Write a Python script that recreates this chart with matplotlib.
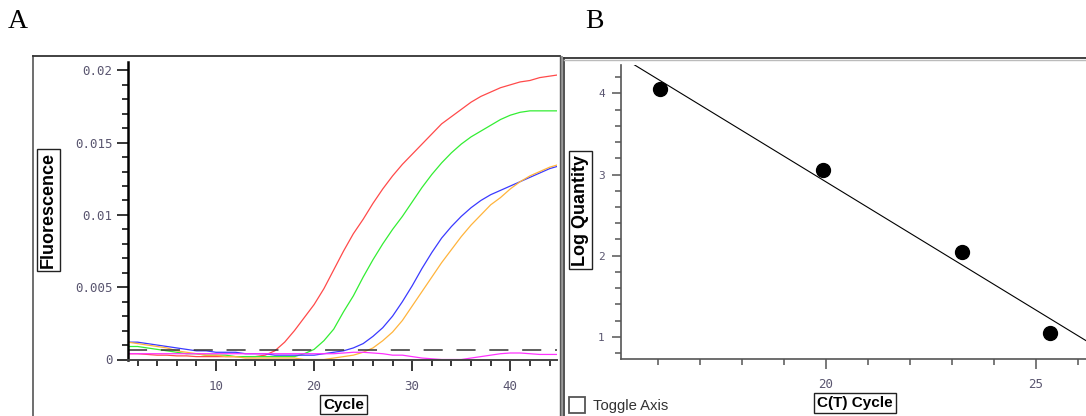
import numpy as np
import matplotlib
matplotlib.use('Agg')
import matplotlib.pyplot as plt
from matplotlib.ticker import FixedLocator, FixedFormatter, MultipleLocator
from matplotlib.lines import Line2D
from matplotlib.patches import Rectangle

W, H = 1086, 416

# ---------------- Panel A data (amplification curves) ----------------
cycles = list(range(1, 46))
red = [0.0004, 0.0004, 0.00035, 0.0003, 0.0003, 0.00025, 0.00025, 0.0002, 0.0002, 0.0002,
       0.0002, 0.0002, 0.0002, 0.0002, 0.0003, 0.0006, 0.0012, 0.0020, 0.0029, 0.0038,
       0.0049, 0.0062, 0.0075, 0.0087, 0.0097, 0.0108, 0.0118, 0.0127, 0.0135, 0.0142,
       0.0149, 0.0156, 0.0163, 0.0168, 0.0173, 0.0178, 0.0182, 0.0185, 0.0188, 0.0190,
       0.0192, 0.0193, 0.0195, 0.0196, 0.0197]
green = [0.0009, 0.0009, 0.0008, 0.0007, 0.0006, 0.0005, 0.0004, 0.0004, 0.0003, 0.0003,
         0.0003, 0.0002, 0.0002, 0.0002, 0.0002, 0.0002, 0.0002, 0.0002, 0.0004, 0.0007,
         0.0013, 0.0021, 0.0033, 0.0044, 0.0057, 0.0069, 0.0080, 0.0090, 0.0099, 0.0109,
         0.0119, 0.0128, 0.0136, 0.0143, 0.0149, 0.0154, 0.0158, 0.0162, 0.0166, 0.0169,
         0.0171, 0.0172, 0.0172, 0.0172, 0.0172]
blue = [0.0012, 0.0012, 0.0011, 0.0010, 0.0009, 0.0008, 0.0007, 0.0006, 0.0006, 0.0005,
        0.0005, 0.0005, 0.0004, 0.0004, 0.0004, 0.0003, 0.0003, 0.0003, 0.0003, 0.0003,
        0.0004, 0.0005, 0.0006, 0.0008, 0.0011, 0.0016, 0.0022, 0.0030, 0.0040, 0.0051,
        0.0063, 0.0074, 0.0084, 0.0092, 0.0099, 0.0105, 0.0110, 0.0114, 0.0117, 0.0120,
        0.0123, 0.0126, 0.0129, 0.0132, 0.0134]
orange = [0.0012, 0.0011, 0.0010, 0.0009, 0.0008, 0.0006, 0.0005, 0.0004, 0.0003, 0.0003,
          0.0002, 0.0002, 0.0001, 0.0001, 0.0001, 0.0001, 0.0001, 0.0001, 0.0000, 0.0000,
          0.0000, 0.0001, 0.0002, 0.0003, 0.0005, 0.0008, 0.0013, 0.0019, 0.0027, 0.0037,
          0.0047, 0.0057, 0.0067, 0.0076, 0.0085, 0.0093, 0.0100, 0.0107, 0.0112, 0.0118,
          0.0123, 0.0127, 0.0130, 0.0133, 0.0135]
magenta = [0.0004, 0.0004, 0.0004, 0.0004, 0.0004, 0.0004, 0.0004, 0.0004, 0.0004, 0.0004,
           0.0004, 0.0004, 0.0004, 0.0004, 0.0004, 0.0004, 0.0004, 0.0004, 0.0004, 0.0004,
           0.0004, 0.0004, 0.00045, 0.0005, 0.0005, 0.00045, 0.0004, 0.0003, 0.0003, 0.0002,
           0.0001, 0.00005, 0.0, 0.0, 0.0, 0.0001, 0.0002, 0.0003, 0.0004, 0.00045,
           0.00045, 0.0004, 0.00035, 0.00035, 0.00035]
threshold = 0.00066

a_yticks = [0, 0.005, 0.01, 0.015, 0.02]
a_yticklabels = ['0', '0.005', '0.01', '0.015', '0.02']
a_xticks = [10, 20, 30, 40]
a_xticklabels = ['10', '20', '30', '40']

# ---------------- Panel B data (standard curve) ----------------
ct_cycle = [16.05, 19.93, 23.24, 25.33]
log_qty = [4.05, 3.05, 2.05, 1.05]
b_yticks = [1, 2, 3, 4]
b_yticklabels = ['1', '2', '3', '4']
b_xticks = [20, 25]
b_xticklabels = ['20', '25']

fig = plt.figure(figsize=(W / 100, H / 100), dpi=100)


def axrect(x0, y0, x1, y1):
    return [x0 / W, 1 - y1 / H, (x1 - x0) / W, (y1 - y0) / H]


def fline(xs, ys, **kw):
    fig.add_artist(Line2D([x / W for x in xs], [1 - y / H for y in ys],
                          transform=fig.transFigure, **kw))


def ftext(x, y, s, **kw):
    return fig.text(x / W, 1 - y / H, s, **kw)


# panel frames
fline([33, 33], [56, 420], color='#555555', lw=1.2)
fline([33, 559.5], [56, 56], color='#333333', lw=1.3)
fline([559.5, 559.5], [56, 420], color='#555555', lw=1.0)
fig.add_artist(Rectangle((560.5 / W, 0), 2.5 / W, 1 - 56 / H, transform=fig.transFigure,
                         fc='#9a9a9a', ec='none'))
fline([564, 564], [58, 420], color='#444444', lw=1.3)
fline([564, 1090], [58, 58], color='#333333', lw=1.3)
fline([564, 1090], [59.8, 59.8], color='#bbbbbb', lw=1.0)

tick_color = '#5a5670'
mono = 'DejaVu Sans Mono'

# ---------------- Panel A ----------------
axA = fig.add_axes(axrect(128, 61.7, 556.7, 359.5))
series = [(red, '#ff4a4a'), (green, '#33ee33'), (blue, '#3a3aff'),
          (orange, '#ffb43c'), (magenta, '#ff33ff')]
for vals, col in series:
    axA.plot(cycles, vals, color=col, lw=0.9, clip_on=True)
axA.axhline(threshold, color='#333333', lw=1.1, dashes=(12.5, 9))
axA.set_xlim(1.03, 44.73)
axA.set_ylim(0, 0.0206)
for s in ['top', 'right']:
    axA.spines[s].set_visible(False)
axA.spines['left'].set_color('black')
axA.spines['left'].set_linewidth(1.8)
axA.spines['bottom'].set_color('#444444')
axA.spines['bottom'].set_linewidth(1.4)
axA.yaxis.set_major_locator(FixedLocator(a_yticks))
axA.yaxis.set_major_formatter(FixedFormatter(a_yticklabels))
axA.yaxis.set_minor_locator(MultipleLocator(0.001))
axA.xaxis.set_major_locator(FixedLocator(a_xticks))
axA.xaxis.set_major_formatter(FixedFormatter(a_xticklabels))
axA.xaxis.set_minor_locator(MultipleLocator(2))
axA.tick_params(axis='both', which='major', direction='out', length=8, width=1.1,
                color='black', labelcolor=tick_color, labelsize=9)
axA.tick_params(axis='both', which='minor', direction='out', length=4.3, width=1.1,
                color='black')
axA.tick_params(axis='y', which='major', pad=3)
axA.tick_params(axis='x', which='major', pad=7)
for lab in axA.get_xticklabels() + axA.get_yticklabels():
    lab.set_family(mono)

# ---------------- Panel B ----------------
axB = fig.add_axes(axrect(620.7, 65, 1086, 359))
axB.set_xlim(15.11, 26.19)
axB.set_ylim(0.729, 4.348)
slope, intercept = np.polyfit(ct_cycle, log_qty, 1)
xl = np.array(axB.get_xlim())
axB.plot(xl, slope * xl + intercept, color='black', lw=0.8)
axB.plot(ct_cycle, log_qty, 'o', color='black', ms=10, clip_on=False)
for s in ['top', 'right']:
    axB.spines[s].set_visible(False)
for s in ['left', 'bottom']:
    axB.spines[s].set_color('#555555')
    axB.spines[s].set_linewidth(1.2)
axB.yaxis.set_major_locator(FixedLocator(b_yticks))
axB.yaxis.set_major_formatter(FixedFormatter(b_yticklabels))
axB.yaxis.set_minor_locator(MultipleLocator(0.2))
axB.xaxis.set_major_locator(FixedLocator(b_xticks))
axB.xaxis.set_major_formatter(FixedFormatter(b_xticklabels))
axB.xaxis.set_minor_locator(MultipleLocator(1))
axB.tick_params(axis='y', which='major', direction='out', length=6.5, width=1.1,
                color='#555555', labelcolor=tick_color, labelsize=8, pad=5)
axB.tick_params(axis='y', which='minor', direction='out', length=4, width=1.1, color='#555555')
axB.tick_params(axis='x', which='major', direction='out', length=7.5, width=1.1,
                color='#555555', labelcolor=tick_color, labelsize=9, pad=6)
axB.tick_params(axis='x', which='minor', direction='out', length=4, width=1.1, color='#555555')
for lab in axB.get_xticklabels() + axB.get_yticklabels():
    lab.set_family(mono)

# ---------------- labels ----------------
box = dict(boxstyle='square,pad=0.18', fc='white', ec='#222222', lw=1.0)
ftext(48.5, 210, 'Fluorescence', rotation=90, ha='center', va='center', fontsize=13,
      fontweight='bold', family='Liberation Sans', bbox=box)
ftext(343.5, 404.5, 'Cycle', ha='center', va='center', fontsize=11,
      fontweight='bold', family='Liberation Sans', bbox=box)
ftext(580.5, 210, 'Log Quantity', rotation=90, ha='center', va='center', fontsize=13,
      fontweight='bold', family='Liberation Sans', bbox=box)
ftext(855, 403, 'C(T) Cycle', ha='center', va='center', fontsize=11,
      fontweight='bold', family='Liberation Sans', bbox=box)

fig.add_artist(Rectangle((568.5 / W, 1 - 413 / H), 16 / W, 16 / H, transform=fig.transFigure,
                         fc='white', ec='#555555', lw=1.3))
ftext(593, 406, 'Toggle Axis', ha='left', va='center', fontsize=10.7, color='#333333',
      family='Liberation Sans')

ftext(8, 22, 'A', ha='left', va='center', fontsize=20, family='Liberation Serif', color='black')
ftext(585, 22, 'B', ha='left', va='center', fontsize=20, family='Liberation Serif', color='black')

fig.savefig('out.png', dpi=100)
